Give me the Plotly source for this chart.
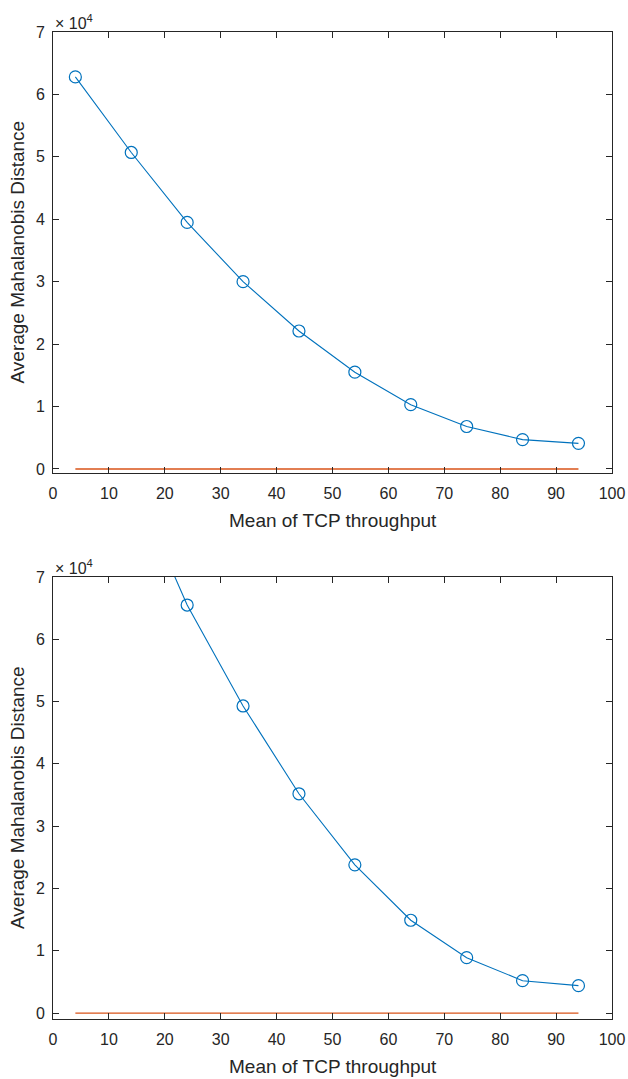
import plotly.graph_objects as go

x_vals = [4, 14, 24, 34, 44, 54, 64, 74, 84, 94]
top_blue = [62800, 50700, 39500, 30000, 22100, 15500, 10300, 6800, 4700, 4100]
top_orange = [0, 0, 0, 0, 0, 0, 0, 0, 0, 0]
bot_blue = [109000, 86000, 65500, 49300, 35200, 23800, 14900, 8900, 5200, 4400]
bot_orange = [0, 0, 0, 0, 0, 0, 0, 0, 0, 0]
x_ticks = [0, 10, 20, 30, 40, 50, 60, 70, 80, 90, 100]
y_ticks = [0, 10000, 20000, 30000, 40000, 50000, 60000, 70000]
y_ticktext = ["0", "1", "2", "3", "4", "5", "6", "7"]
x_title = "Mean of TCP throughput"
y_title = "Average Mahalanobis Distance"

BLUE = "#0072BD"
ORANGE = "#D95319"
INK = "#262626"
FONT = "Liberation Sans, Arial, sans-serif"

fig = go.Figure()
for (blue, orange, xa, ya) in [(top_blue, top_orange, "x", "y"), (bot_blue, bot_orange, "x2", "y2")]:
    fig.add_trace(go.Scatter(x=x_vals, y=blue, mode="lines+markers", xaxis=xa, yaxis=ya,
                             line=dict(color=BLUE, width=1.1),
                             marker=dict(symbol="circle-open", size=12, color=BLUE, line=dict(width=1.2)),
                             showlegend=False))
    fig.add_trace(go.Scatter(x=x_vals, y=orange, mode="lines", xaxis=xa, yaxis=ya,
                             line=dict(color=ORANGE, width=1.4), showlegend=False))

# body margin removed by post_script, so figure fills the 628x1079 window
W, H = 628, 1079
M_T, M_B, M_L, M_R = 32, 60, 53, 16
H_PLOT = H - M_T - M_B
top_dom = [(1019 - 473) / H_PLOT, 1.0]
bot_dom = [0.0, (1019 - 577) / H_PLOT]

xcommon = dict(range=[0, 100], tickvals=x_ticks, ticks="inside", ticklen=6, tickwidth=1,
               tickcolor=INK, showline=True, linecolor=INK, linewidth=1, mirror="ticks",
               showgrid=False, zeroline=False, automargin=False, ticklabelstandoff=6,
               tickfont=dict(size=16, color=INK, family=FONT))
ycommon = dict(tickvals=y_ticks, ticktext=y_ticktext, ticks="inside", ticklen=6,
               tickwidth=1, tickcolor=INK, showline=True, linecolor=INK, linewidth=1, mirror="ticks",
               showgrid=False, zeroline=False, automargin=False, ticklabelstandoff=4,
               tickfont=dict(size=16, color=INK, family=FONT))

fig.update_layout(
    width=W, height=H,
    margin=dict(l=M_L, r=M_R, t=M_T, b=M_B),
    paper_bgcolor="white", plot_bgcolor="white",
    xaxis=dict(domain=[0, 1], anchor="y", **xcommon),
    yaxis=dict(domain=top_dom, anchor="x", range=[-650, 70000], **ycommon),
    xaxis2=dict(domain=[0, 1], anchor="y2", **xcommon),
    yaxis2=dict(domain=bot_dom, anchor="x2", range=[-950, 70000], **ycommon),
    font=dict(family=FONT, color=INK),
)

for dom in (top_dom, bot_dom):
    fig.add_annotation(text="\u00d7 10<sup>4</sup>", xref="paper", yref="paper", x=0, y=dom[1],
                       xanchor="left", yanchor="bottom", showarrow=False, yshift=-2,
                       font=dict(size=16, color=INK, family=FONT))
    fig.add_annotation(text=x_title, xref="paper", yref="paper", x=0.5, y=dom[0],
                       xanchor="center", yanchor="middle", showarrow=False, yshift=-47,
                       font=dict(size=19, color=INK, family=FONT))
    fig.add_annotation(text=y_title, xref="paper", yref="paper", x=0, y=(dom[0] + dom[1]) / 2,
                       xanchor="center", yanchor="middle", showarrow=False, xshift=-36,
                       textangle=-90, font=dict(size=19, color=INK, family=FONT))

fig.write_html("out.html", config={"displayModeBar": False},
               post_script="document.body.style.margin='0px';document.body.style.overflow='hidden';")
